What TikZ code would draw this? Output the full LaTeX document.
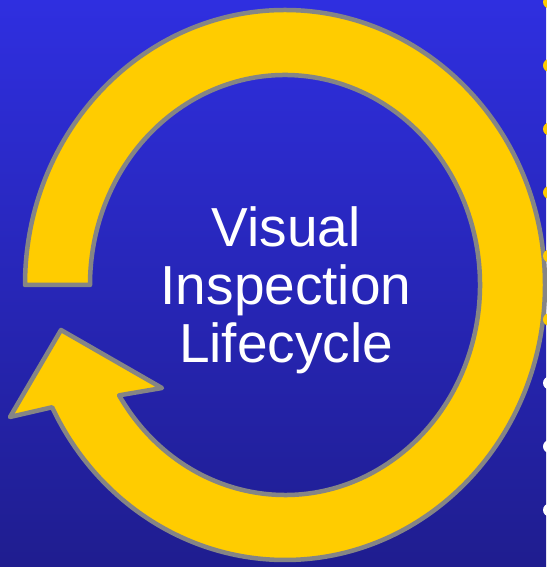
\documentclass[tikz,border=0pt]{standalone}
\usepackage{fontspec}
\setmainfont{Liberation Sans}
\usepackage{xcolor}
\usepackage{tikz}
\usetikzlibrary{calc}

\definecolor{bgtop}{RGB}{47,47,224}
\definecolor{bgbot}{RGB}{31,29,143}
\definecolor{ringyellow}{RGB}{255,204,0}
\definecolor{ringgray}{RGB}{133,133,133}

\begin{document}
\begin{tikzpicture}[
  x=1pt, y=1pt,
  ring/.style={fill=ringyellow, draw=ringgray, line width=4.5pt, line join=round},
  title/.style={align=center, text=white, inner sep=0pt,
                font=\fontsize{55}{58}\selectfont},
  bullet/.style={fill=#1}
]
  \useasboundingbox (0,0) rectangle (546,567);
  \shade[top color=bgtop, bottom color=bgbot] (0,0) rectangle (546,567);

  \coordinate (c) at (285,282);

  % ring with the arrow head at the lower left
  \draw[ring] ($(c)+(180:260pt and 275pt)$)
    arc[start angle=180, end angle=-153.6, x radius=260pt, y radius=275pt]
    -- (10,150) -- (61,237) -- (162,179)
    -- ($(c)+(211.7:195pt and 210pt)$)
    arc[start angle=-148.3, end angle=180, x radius=195pt, y radius=210pt]
    -- cycle;

  \node[title] (lbl) at (286,276.5) {Visual\\Inspection\\Lifecycle};

  % bullets cut by the right edge
  \foreach \k in {0,...,5}
    \fill[bullet=ringyellow] (549.5,{565-63.5*\k}) circle (6.5);
  \foreach \k in {6,7,8}
    \fill[bullet=white] (549.5,{565-63.5*\k}) circle (6.5);
\end{tikzpicture}
\end{document}
